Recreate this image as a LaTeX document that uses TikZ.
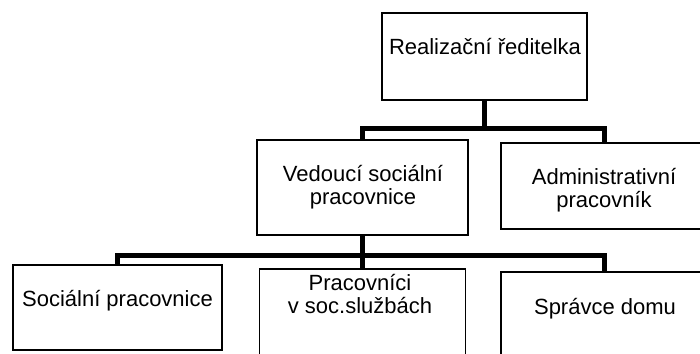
\documentclass[tikz,border=0pt]{standalone}
\usepackage{fontspec}
\setmainfont{Liberation Sans}
\begin{document}
\begin{tikzpicture}[x=1pt,y=-1pt,
  box/.style={draw=black,line width=1.4pt,rectangle,inner sep=0pt},
  conn/.style={draw=black,line width=5pt,line join=miter},
  lbl/.style={font=\fontsize{22}{22.5}\selectfont,align=center,inner sep=0pt,anchor=base}]
\useasboundingbox (0,0) rectangle (700,353);
\clip (0,0) rectangle (700,353);
% boxes
\node[box,minimum width=205pt,minimum height=87pt] (top) at (484.5,56.5) {};
\node[box,minimum width=211pt,minimum height=95pt] (ved) at (362.5,187.5) {};
\node[box,minimum width=207pt,minimum height=86pt] (adm) at (604.5,186) {};
\node[box,minimum width=209pt,minimum height=85pt] (soc) at (117.5,307.5) {};
\node[box,minimum width=206pt,minimum height=90pt] (prac) at (362.5,314) {};
\node[box,minimum width=207pt,minimum height=90pt] (spr) at (604.5,317) {};
% texts
\node[lbl] (ttop) at (485,55) {Realizační ředitelka};
\node[lbl] (tved) at (363,204) {Vedoucí sociální\\pracovnice};
\node[lbl] (tadm) at (604,207) {Administrativní\\pracovník};
\node[lbl] (tsoc) at (117.5,306) {Sociální pracovnice};
\node[lbl] (tprac) at (360,313) {Pracovníci\\v soc.službách};
\node[lbl] (tspr) at (605,314) {Správce domu};
% connectors
\coordinate (b1) at (484.5,128.5);
\coordinate (b2) at (362.5,255.5);
\draw[conn] (top.south) -- (b1);
\draw[conn] (ved.north) |- (b1) -| (adm.north);
\draw[conn] (ved.south) -- (prac.north);
\draw[conn] (soc.north) |- (b2) -| (spr.north);
\end{tikzpicture}
\end{document}
